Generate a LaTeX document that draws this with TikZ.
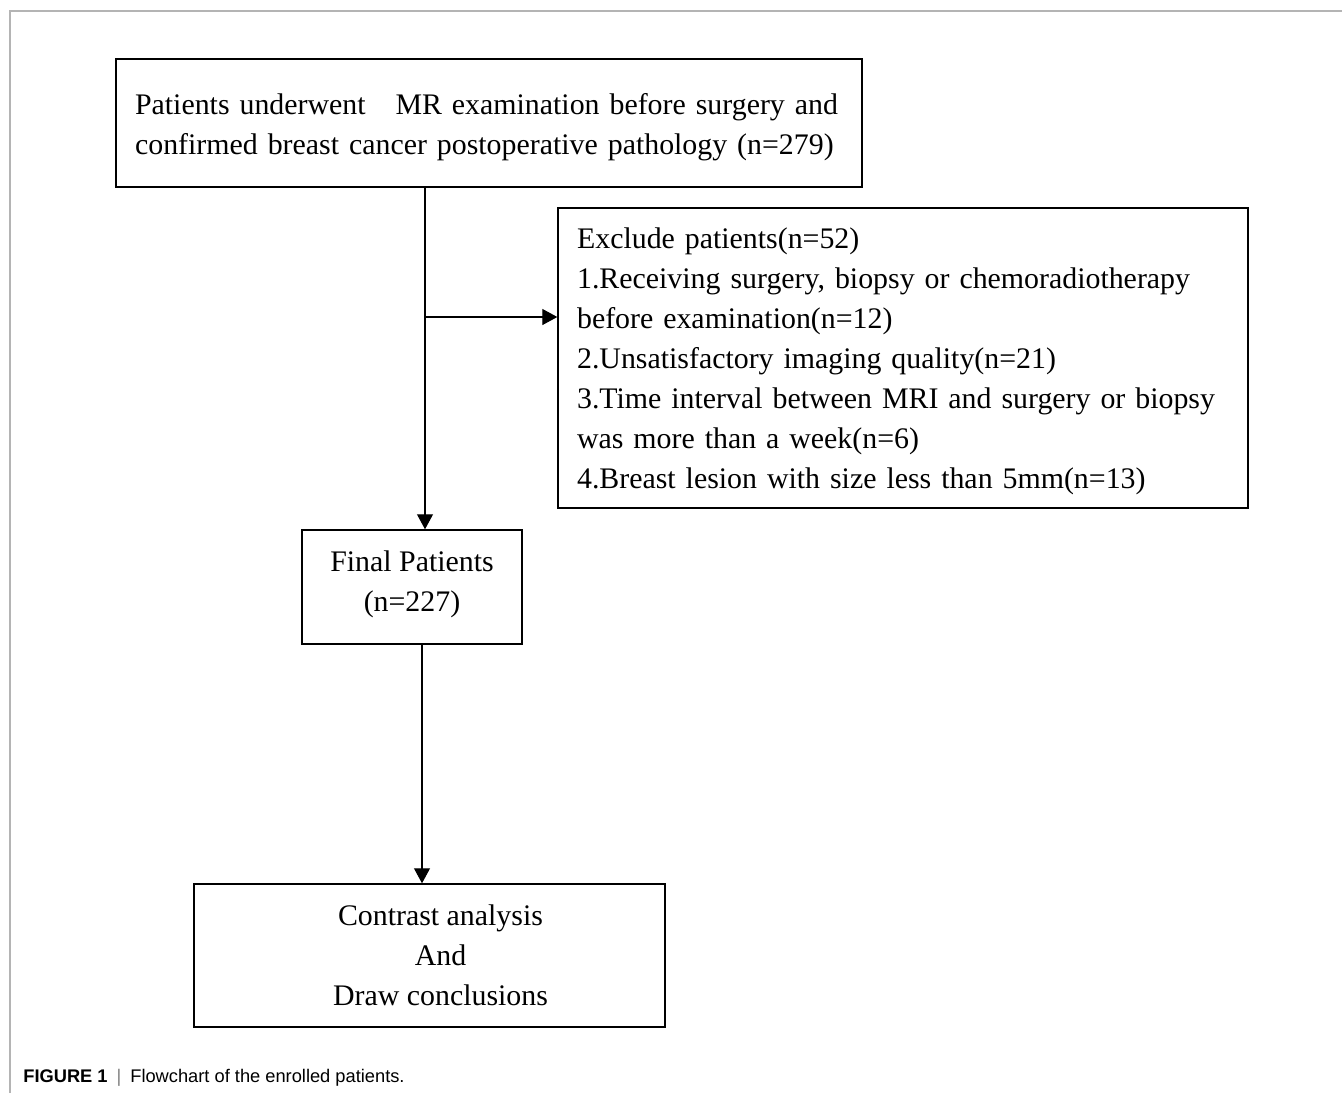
\documentclass[tikz,border=0pt]{standalone}
\usepackage{fontspec}
\setmainfont{Liberation Serif}
\newfontfamily\capfont{Liberation Sans}
\usetikzlibrary{arrows.meta,positioning,calc}
\definecolor{cframe}{HTML}{B4B4B4}

\begin{document}
\begin{tikzpicture}[
    x=0.02cm, y=-0.02cm,
    box/.style={draw, line width=0.85pt, inner sep=0pt, font=\fontsize{17}{22.8}\selectfont},
    arr/.style={-{Triangle[length=0.3cm, width=0.32cm]}, line width=0.6pt},
]
\useasboundingbox (0,0) rectangle (1342,1093);

% Frame of the figure
\draw[cframe, line width=0.8pt] (10,1093) -- (10,11) -- (1342,11);

% Boxes
\node[box, minimum width=14.92cm, minimum height=2.56cm, text width=14.16cm, align=left]
    (start) at (489,123) {\rule{0pt}{0.6cm}Patients underwent\ \ \ MR examination before surgery and\\
    confirmed breast cancer postoperative pathology (n=279)};
\node[box, minimum width=13.8cm, minimum height=6cm, text width=13.04cm, align=left]
    (excl) at (903,358) {\rule{0pt}{0.55cm}Exclude patients(n=52)\\
    1.Receiving surgery, biopsy or chemoradiotherapy\\
    before examination(n=12)\\
    2.Unsatisfactory imaging quality(n=21)\\
    3.Time interval between MRI and surgery or biopsy\\
    was more than a week(n=6)\\
    4.Breast lesion with size less than 5mm(n=13)};
\node[box, minimum width=4.4cm, minimum height=2.28cm, align=center]
    (final) at (412,587) {Final Patients\\(n=227)\rule[-0.25cm]{0pt}{0pt}};
\node[box, minimum width=9.42cm, minimum height=2.86cm, align=center]
    (concl) at (429.5,955.5) {\hspace*{0.44cm}Contrast analysis\\\hspace*{0.44cm}And\\
    \hspace*{0.44cm}Draw conclusions};

% Connectors
\coordinate (split) at (425,317);
\coordinate (mid) at (422,760);
\draw[arr] (split |- start.south) -- (split |- final.north);
\draw[arr] (split) -- (split -| excl.west);
\draw[arr] (mid |- final.south) -- (mid |- concl.north);

% Caption
\node[anchor=west, inner sep=0pt, font=\capfont\fontsize{10.4}{12}\selectfont]
    (caption) at (23,1078) {\textbf{FIGURE 1}\hspace{0.18cm}{\color{gray}|}\hspace{0.18cm}Flowchart of the enrolled patients.};

\end{tikzpicture}
\end{document}
